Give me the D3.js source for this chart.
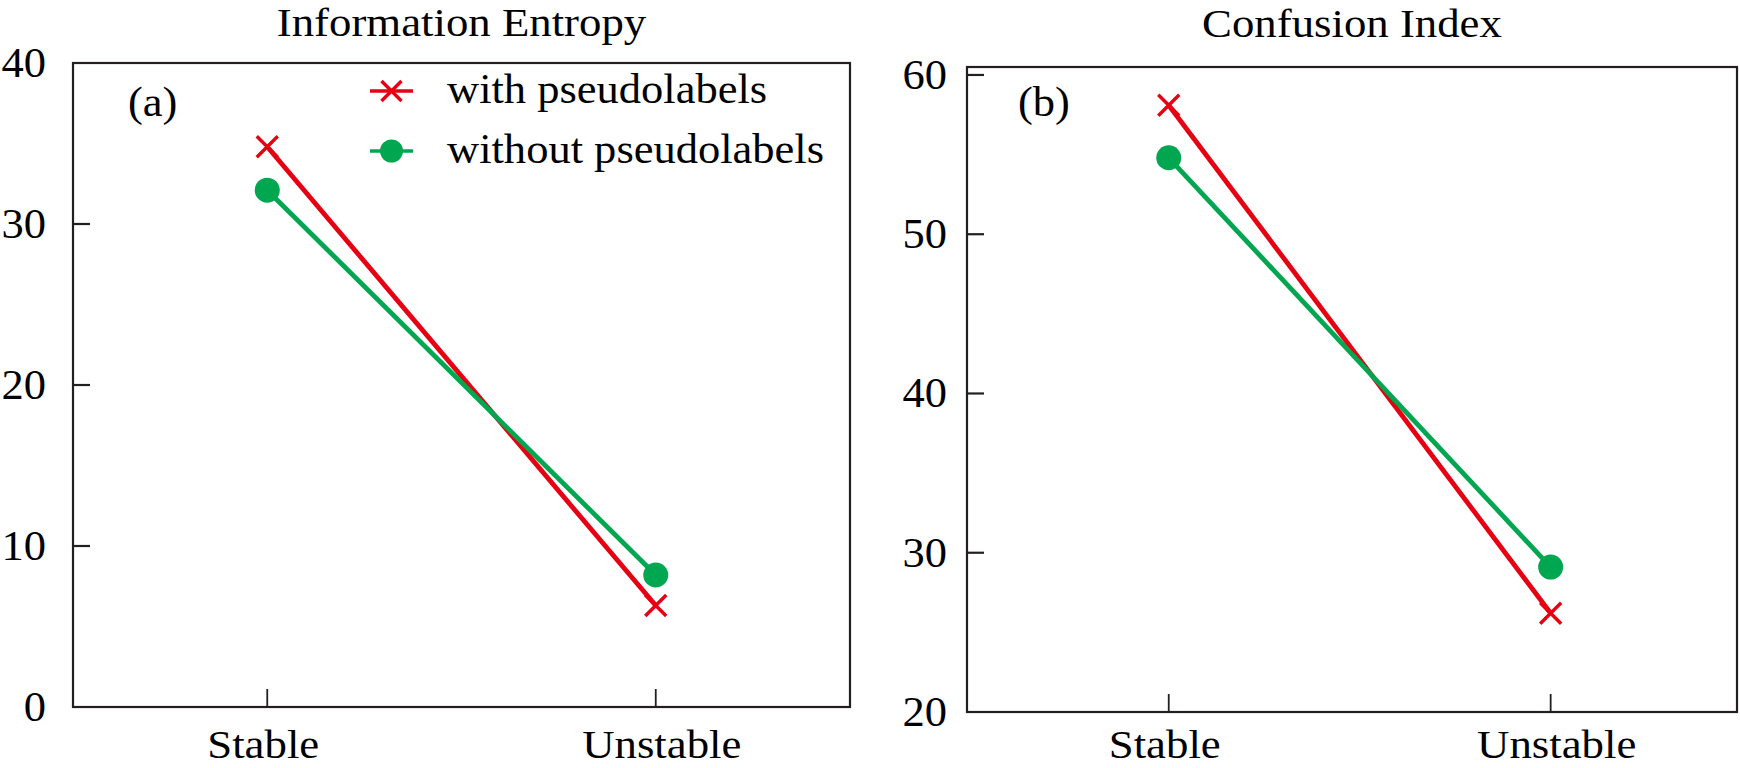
<!DOCTYPE html>
<html>
<head>
<meta charset="utf-8">
<script src="https://cdn.jsdelivr.net/npm/d3@7"></script>
<style>
  html, body { margin: 0; padding: 0; background: #ffffff; }
  svg { display: block; }
</style>
</head>
<body>
<svg id="chart" width="1740" height="768"></svg>
<script>
// ---------------- data ----------------
const categories = ["Stable", "Unstable"];
const seriesNames = ["with pseudolabels", "without pseudolabels"];
const entropyWith = [34.8, 6.3];
const entropyWithout = [32.1, 8.2];
const confusionWith = [58.1, 26.2];
const confusionWithout = [54.8, 29.1];
const entropyTicks = [0, 10, 20, 30, 40];
const confusionTicks = [20, 30, 40, 50, 60];
const panelTitles = ["Information Entropy", "Confusion Index"];
const panelTags = ["(a)", "(b)"];

// ---------------- styles ----------------
const RED = "#e60012";
const GREEN = "#00a650";
const AXIS = "#231f20";
const FONT = "'Liberation Serif', 'Times New Roman', Times, serif";
const FS = 42;        // font size
const SX = 1.06;      // slight horizontal stretch of the original lettering

const svg = d3.select("#chart");

function label(parent, x, y, txt, anchor, size, sx) {
  parent.append("g")
    .attr("transform", `translate(${x},${y}) scale(${sx || SX},1)`)
    .append("text")
    .attr("x", 0).attr("y", 0)
    .attr("text-anchor", anchor || "start")
    .attr("font-family", FONT)
    .attr("font-size", (size || FS))
    .attr("fill", "#000")
    .text(txt);
}

function drawX(g, cx, cy, h, color, w) {
  g.append("path")
    .attr("d", `M${cx - h},${cy - h}L${cx + h},${cy + h}M${cx - h},${cy + h}L${cx + h},${cy - h}`)
    .attr("stroke", color).attr("stroke-width", w).attr("fill", "none");
}

const panels = [
  { box: { x0: 73, x1: 850, y0: 63, y1: 707 }, yDomain: [0, 40], yRange: [707, 63],
    xFrac: [0.25, 0.75], ticks: entropyTicks, withVals: entropyWith, withoutVals: entropyWithout,
    title: panelTitles[0], titleY: 36, tag: panelTags[0], tagX: 128, labelGap: 27, legend: true },
  { box: { x0: 967, x1: 1737, y0: 67, y1: 712 }, yDomain: [20, 60.5], yRange: [712, 67],
    xFrac: [0.262, 0.758], ticks: confusionTicks, withVals: confusionWith, withoutVals: confusionWithout,
    title: panelTitles[1], titleY: 37, tag: panelTags[1], tagX: 1018, labelGap: 20, legend: false }
];

panels.forEach(p => {
  const b = p.box, w = b.x1 - b.x0;
  const x = d3.scalePoint().domain(categories)
    .range([b.x0 + p.xFrac[0] * w, b.x0 + p.xFrac[1] * w]);
  const y = d3.scaleLinear().domain(p.yDomain).range(p.yRange);
  const g = svg.append("g");

  // frame
  g.append("rect")
    .attr("x", b.x0).attr("y", b.y0)
    .attr("width", w).attr("height", b.y1 - b.y0)
    .attr("fill", "none").attr("stroke", AXIS).attr("stroke-width", 2.2);

  // y ticks (inward) and labels
  p.ticks.forEach(t => {
    const ty = y(t);
    if (ty > b.y0 + 3 && ty < b.y1 - 3) {
      g.append("line")
        .attr("x1", b.x0).attr("x2", b.x0 + 17)
        .attr("y1", ty).attr("y2", ty)
        .attr("stroke", AXIS).attr("stroke-width", 2.2);
    }
    label(g, b.x0 - p.labelGap, ty + 14, String(t), "end");
  });

  // x ticks (inward) and labels
  categories.forEach((c, i) => {
    g.append("line")
      .attr("x1", x(c)).attr("x2", x(c))
      .attr("y1", b.y1).attr("y2", b.y1 - 18)
      .attr("stroke", AXIS).attr("stroke-width", 1.8);
    label(g, x(c) + (i === 0 ? -4 : 6), 758, c, "middle", 40, 1.12);
  });

  // title and tag
  label(g, (b.x0 + b.x1) / 2, p.titleY, p.title, "middle", 40, 1.12);
  label(g, p.tagX, 116, p.tag, "start");

  // lines
  const line = d3.line().x((d, i) => x(categories[i])).y(d => y(d));
  g.append("path").datum(p.withVals).attr("d", line)
    .attr("fill", "none").attr("stroke", RED).attr("stroke-width", 4.8);
  g.append("path").datum(p.withoutVals).attr("d", line)
    .attr("fill", "none").attr("stroke", GREEN).attr("stroke-width", 4.8);

  // markers
  p.withVals.forEach((v, i) => drawX(g, x(categories[i]), y(v), 10.5, RED, 3.4));
  g.selectAll(null).data(p.withoutVals).enter().append("circle")
    .attr("cx", (d, i) => x(categories[i])).attr("cy", d => y(d))
    .attr("r", 12.5).attr("fill", GREEN);

  // legend
  if (p.legend) {
    const lx0 = 370, lx1 = 413, lxm = (lx0 + lx1) / 2;
    const rows = [91, 151];
    // with pseudolabels
    g.append("line").attr("x1", lx0).attr("x2", lx1).attr("y1", rows[0]).attr("y2", rows[0])
      .attr("stroke", RED).attr("stroke-width", 3.6);
    drawX(g, lxm, rows[0], 10, RED, 3.4);
    label(g, 447, rows[0] + 12, seriesNames[0], "start");
    // without pseudolabels
    g.append("line").attr("x1", lx0).attr("x2", lx1).attr("y1", rows[1]).attr("y2", rows[1])
      .attr("stroke", GREEN).attr("stroke-width", 3.6);
    g.append("circle").attr("cx", lxm).attr("cy", rows[1]).attr("r", 11.5).attr("fill", GREEN);
    label(g, 447, rows[1] + 12, seriesNames[1], "start");
  }
});
</script>
</body>
</html>
